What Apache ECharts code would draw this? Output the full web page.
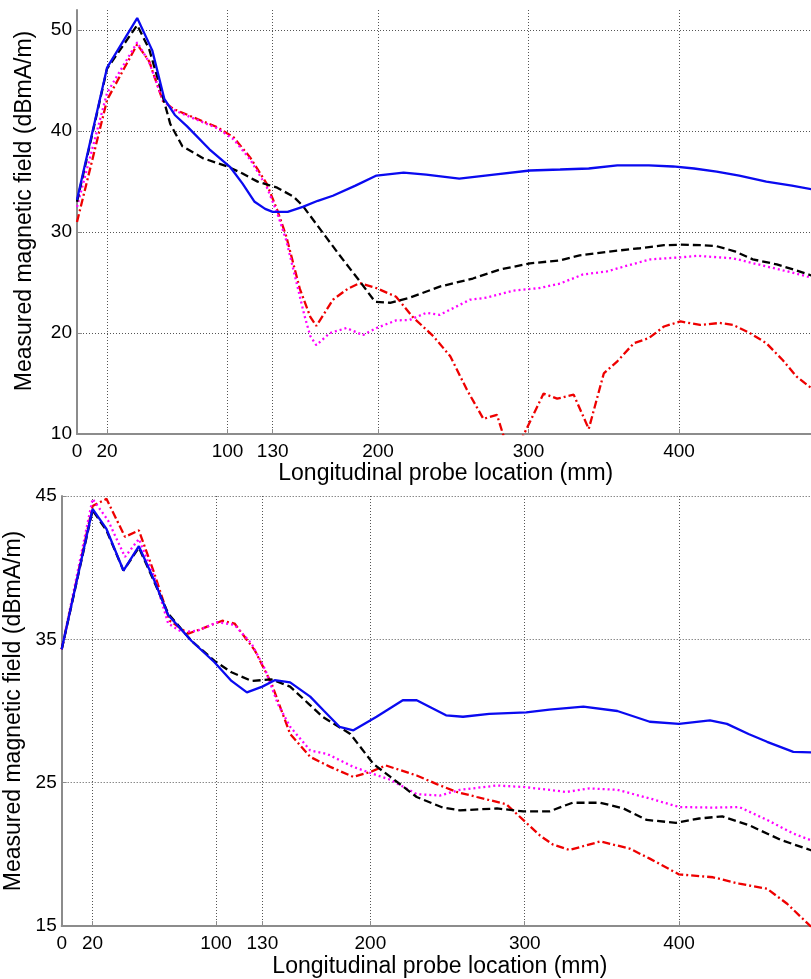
<!DOCTYPE html>
<html>
<head>
<meta charset="utf-8">
<script src="https://cdn.jsdelivr.net/npm/echarts@6/dist/echarts.min.js"></script>
<style>
  html, body { margin: 0; padding: 0; background: #fff; }
  #chart { width: 811px; height: 979px; }
</style>
</head>
<body>
<div id="chart"></div>
<script>
// Probe positions marked on the x axis (mm)
const xTicks = [0, 20, 100, 130, 200, 300, 400];
const topYTicks = [10, 20, 30, 40, 50];
const bottomYTicks = [15, 25, 35, 45];

// Upper panel: [position (mm), field (dBmA/m)]
const topSolid = [[0,33.2],[20,46.3],[40,51.2],[50,48.0],[58,43.2],[65,41.6],[73,40.5],[88,38.2],[102,36.4],[110,34.8],[118,33.0],[125,32.3],[130,32.0],[140,32.0],[150,32.5],[160,33.1],[170,33.6],[185,34.6],[199,35.6],[217,35.9],[232,35.7],[254,35.3],[277,35.7],[301,36.1],[321,36.2],[340,36.3],[359,36.6],[380,36.6],[396,36.5],[410,36.3],[425,36.0],[440,35.6],[458,35.0],[475,34.6],[490,34.2]];
const topDashed = [[0,33.0],[20,46.2],[40,50.5],[48,48.1],[55,44.5],[62,40.7],[70,38.5],[84,37.3],[100,36.5],[110,35.8],[120,35.0],[133,34.4],[144,33.5],[150,32.6],[155,31.6],[165,29.6],[175,27.6],[187,25.3],[198,23.1],[208,23.0],[221,23.5],[241,24.6],[263,25.4],[281,26.3],[301,26.9],[321,27.2],[334,27.7],[355,28.1],[374,28.4],[390,28.7],[401,28.75],[415,28.7],[425,28.6],[437,28.1],[449,27.3],[465,26.8],[478,26.2],[490,25.6]];
const topDotted = [[0,32.5],[20,43.8],[40,48.8],[48,46.8],[57,43.1],[64,42.1],[80,41.1],[93,40.3],[104,39.2],[115,37.2],[126,34.5],[133,31.9],[139,29.2],[146,24.9],[151,21.8],[155,19.7],[159,18.8],[168,20.0],[179,20.5],[190,19.8],[199,20.5],[212,21.25],[221,21.3],[232,22.0],[241,21.8],[261,23.3],[272,23.5],[290,24.2],[307,24.45],[321,24.9],[336,25.8],[352,26.1],[366,26.7],[381,27.3],[401,27.5],[412,27.65],[436,27.4],[458,26.6],[475,26.0],[490,25.4]];
const topDashDot = [[0,31.0],[20,43.1],[40,48.6],[48,46.9],[57,43.0],[64,42.2],[80,41.2],[93,40.4],[104,39.4],[115,37.4],[126,34.8],[133,32.2],[139,29.6],[148,24.4],[155,21.6],[159,20.7],[170,23.3],[180,24.4],[188,24.95],[199,24.45],[212,23.6],[223,21.6],[237,19.65],[248,17.7],[259,14.4],[270,11.5],[279,11.9],[283,10.0],[290,8.0],[297,10.0],[310,14.0],[319,13.5],[330,13.9],[340,10.5],[350,16.0],[359,17.2],[370,19.0],[380,19.5],[390,20.65],[401,21.15],[414,20.8],[427,21.0],[436,20.8],[447,20.0],[458,19.0],[469,17.3],[478,15.7],[490,14.3]];

// Lower panel
const bottomSolid = [[0,34.3],[20,44.1],[29,42.7],[40,39.8],[50,41.5],[60,39.1],[69,36.7],[84,34.9],[99,33.4],[110,32.1],[120,31.3],[130,31.7],[138,32.15],[148,32.0],[161,31.0],[170,30.0],[180,28.9],[189,28.65],[204,29.6],[221,30.75],[230,30.75],[249,29.7],[260,29.6],[277,29.8],[301,29.9],[316,30.1],[338,30.3],[360,30.0],[381,29.25],[400,29.1],[420,29.35],[431,29.1],[445,28.4],[457,27.85],[474,27.15],[490,27.1]];
const bottomDashed = [[0,34.3],[20,44.0],[29,42.6],[40,39.8],[50,41.4],[60,39.0],[69,36.8],[84,34.9],[99,33.5],[110,32.7],[123,32.1],[136,32.2],[148,31.7],[160,30.5],[169,29.6],[187,28.4],[202,26.3],[213,25.4],[230,24.0],[247,23.26],[258,23.07],[282,23.2],[299,23.0],[316,23.0],[331,23.6],[349,23.6],[364,23.2],[379,22.4],[398,22.2],[413,22.5],[428,22.65],[446,22.0],[466,21.0],[485,20.3],[490,20.2]];
const bottomDotted = [[0,34.3],[20,44.8],[30,43.3],[41,40.75],[50,42.0],[60,39.35],[69,36.1],[78,35.5],[88,35.6],[101,36.2],[112,36.0],[123,34.7],[132,32.85],[140,30.5],[148,28.9],[161,27.25],[172,27.0],[189,26.1],[202,25.6],[213,25.2],[230,24.2],[245,24.1],[258,24.5],[282,24.8],[299,24.7],[316,24.5],[327,24.35],[342,24.6],[360,24.5],[381,23.9],[400,23.3],[422,23.26],[439,23.3],[457,22.4],[474,21.45],[490,20.8]];
const bottomDashDot = [[0,34.3],[20,44.3],[29,44.8],[41,42.15],[50,42.6],[60,39.6],[70,36.3],[82,35.4],[91,35.75],[104,36.3],[112,36.1],[125,34.25],[136,31.9],[148,28.4],[161,26.8],[174,26.1],[189,25.4],[200,25.75],[210,26.2],[230,25.5],[243,24.9],[256,24.35],[269,24.0],[288,23.5],[299,22.4],[310,21.3],[318,20.7],[329,20.3],[349,20.9],[368,20.4],[381,19.7],[400,18.6],[422,18.4],[439,17.95],[457,17.6],[470,16.55],[485,15.0],[490,14.6]];

const FONT = '"Liberation Sans", Arial, sans-serif';
const axisGray = '#8c8c8c';
const gridStyle = { color: '#555', width: 1, type: [1, 2] };

function xAxisFor(gridIndex, gap) {
  return {
    type: 'value', gridIndex, min: 0, max: 490,
    name: 'Longitudinal probe location (mm)',
    nameLocation: 'middle', nameGap: gap,
    nameTextStyle: { fontFamily: FONT, fontSize: 23, color: '#000' },
    axisLine: { show: true, onZero: false, lineStyle: { color: axisGray, width: 2 } },
    axisTick: { show: true, inside: true, length: 5, customValues: xTicks, lineStyle: { color: axisGray } },
    axisLabel: { customValues: xTicks, fontFamily: FONT, fontSize: 19, color: '#000', margin: 8 },
    splitLine: { show: true, lineStyle: gridStyle }
  };
}
function yAxisFor(gridIndex, min, max, ticks, gap, shift) {
  return {
    type: 'value', gridIndex, min, max,
    name: 'Measured magnetic field (dBmA/m)',
    nameLocation: 'middle', nameGap: gap, nameRotate: 90,
    nameTextStyle: { fontFamily: FONT, fontSize: 23, color: '#000', padding: [0, 0, 0, shift] },
    axisLine: { show: true, onZero: false, lineStyle: { color: axisGray, width: 2 } },
    axisTick: { show: true, inside: true, length: 5, customValues: ticks, lineStyle: { color: axisGray } },
    axisLabel: { customValues: ticks, fontFamily: FONT, fontSize: 19, color: '#000', margin: 5 },
    splitLine: { show: true, lineStyle: gridStyle }
  };
}

const styles = [
  { color: '#0a0af0', type: 'solid' },
  { color: '#000000', type: [8, 4] },
  { color: '#ff00ff', type: [2, 3] },
  { color: '#ee0000', type: [8, 3, 2, 3] }
];
function lineSeries(data, idx, axisIndex) {
  return {
    type: 'line', data, xAxisIndex: axisIndex, yAxisIndex: axisIndex,
    symbol: 'none', smooth: false, clip: true, animation: false,
    lineStyle: { color: styles[idx].color, width: 2.3, type: styles[idx].type },
    z: 10 - idx
  };
}

const chart = echarts.init(document.getElementById('chart'), null, { renderer: 'canvas' });
chart.setOption({
  backgroundColor: '#fff',
  animation: false,
  grid: [
    { left: 77, top: 10, right: -3.5, bottom: 545, outerBoundsMode: 'none' },
    { left: 61.7, top: 496, right: -7, bottom: 53, outerBoundsMode: 'none' }
  ],
  xAxis: [xAxisFor(0, 27), xAxisFor(1, 29.5)],
  yAxis: [yAxisFor(0, 10, 52, topYTicks, 40.5, 22), yAxisFor(1, 15, 45, bottomYTicks, 27, 0)],
  series: [
    lineSeries(topSolid, 0, 0), lineSeries(topDashed, 1, 0),
    lineSeries(topDotted, 2, 0), lineSeries(topDashDot, 3, 0),
    lineSeries(bottomSolid, 0, 1), lineSeries(bottomDashed, 1, 1),
    lineSeries(bottomDotted, 2, 1), lineSeries(bottomDashDot, 3, 1)
  ]
});
</script>
</body>
</html>
